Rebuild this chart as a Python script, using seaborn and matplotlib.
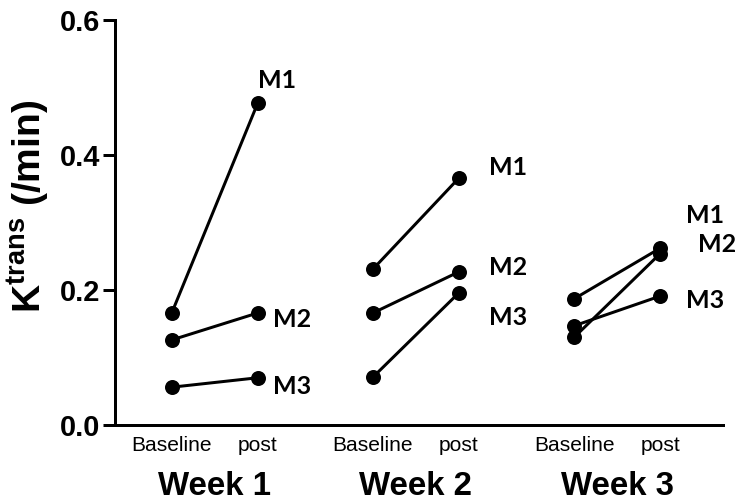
import matplotlib
matplotlib.use("Agg")
import matplotlib.pyplot as plt
import matplotlib.transforms as mtransforms
import seaborn as sns
import pandas as pd

# ---- data ----
weeks = ["Week 1", "Week 2", "Week 3"]
conditions = ["Baseline", "post"]
mice = ["M1", "M2", "M3"]
baseline = {"Week 1": [0.166, 0.126, 0.056],
            "Week 2": [0.231, 0.166, 0.071],
            "Week 3": [0.187, 0.130, 0.147]}
post = {"Week 1": [0.477, 0.166, 0.070],
        "Week 2": [0.366, 0.227, 0.196],
        "Week 3": [0.262, 0.254, 0.191]}
y_ticks = [0.0, 0.2, 0.4, 0.6]

# label offsets (pixels) relative to the post point
label_offsets = {"Week 1": [(19, 23), (34, -7), (34, -9)],
                 "Week 2": [(49, 10), (49, 4), (49, -25)],
                 "Week 3": [(45, 33), (57, 9), (45, -4)]}

group_step = 2.34
rows = []
for wi, w in enumerate(weeks):
    for mi, m in enumerate(mice):
        for ci, (c, vals) in enumerate(zip(conditions, [baseline, post])):
            rows.append({"week": w, "mouse": m, "cond": c,
                         "x": wi * group_step + ci,
                         "value": vals[w][mi], "unit": f"{w}-{m}"})
df = pd.DataFrame(rows)

sns.set_style("ticks", {"axes.edgecolor": "black", "text.color": "black",
                        "xtick.color": "black", "ytick.color": "black",
                        "axes.labelcolor": "black"})
plt.rcParams["font.family"] = ["Liberation Sans", "DejaVu Sans"]
plt.rcParams["mathtext.fontset"] = "custom"
plt.rcParams["mathtext.rm"] = "Liberation Sans"
plt.rcParams["mathtext.bf"] = "Liberation Sans:bold"

DPI = 72
fig = plt.figure(figsize=(742 / DPI, 502 / DPI), dpi=DPI)
ax = fig.add_axes([115 / 742, 1 - 425 / 502, (723 - 115) / 742, (425 - 20) / 502])

sns.lineplot(data=df, x="x", y="value", units="unit", estimator=None,
             color="black", linewidth=3, marker="o", markersize=15,
             markeredgecolor="black", markeredgewidth=0, ax=ax, legend=False)

ax.set_ylim(0, 0.6)
ax.set_xlim(-0.66, 2 * group_step + 1 + 0.73)
ax.set_yticks(y_ticks)
ax.set_yticklabels([f"{t:.1f}" for t in y_ticks], fontsize=29, fontweight="bold")

xt = [wi * group_step + ci for wi in range(len(weeks)) for ci in range(2)]
ax.set_xticks(xt)
ax.set_xticklabels(conditions * len(weeks), fontsize=21)
ax.tick_params(axis="x", length=0, pad=11, colors="black")
ax.tick_params(axis="y", length=12, width=3, pad=3, colors="black")

for side in ["top", "right"]:
    ax.spines[side].set_visible(False)
for side in ["left", "bottom"]:
    ax.spines[side].set_linewidth(3)
    ax.spines[side].set_color("black")

ax.set_xlabel("")
ax.set_ylabel(r"$\mathbf{K^{trans}}$ (/min)", fontsize=39, fontweight="bold",
              color="black")
ax.yaxis.set_label_coords(-0.105, 0.54)

trans = mtransforms.blended_transform_factory(ax.transData, ax.transAxes)
for wi, w in enumerate(weeks):
    ax.text(wi * group_step + 0.5, -0.152, w, transform=trans, ha="center",
            va="center", fontsize=33, fontweight="bold", color="black")
    for mi, m in enumerate(mice):
        dx, dy = label_offsets[w][mi]
        ax.annotate(m, (wi * group_step + 1, post[w][mi]), xytext=(dx, dy),
                    textcoords="offset points", ha="center", va="center",
                    fontsize=25, fontweight="bold", color="black",
                    family=["Lato", "DejaVu Sans"])

fig.savefig("out.png", dpi=DPI)
